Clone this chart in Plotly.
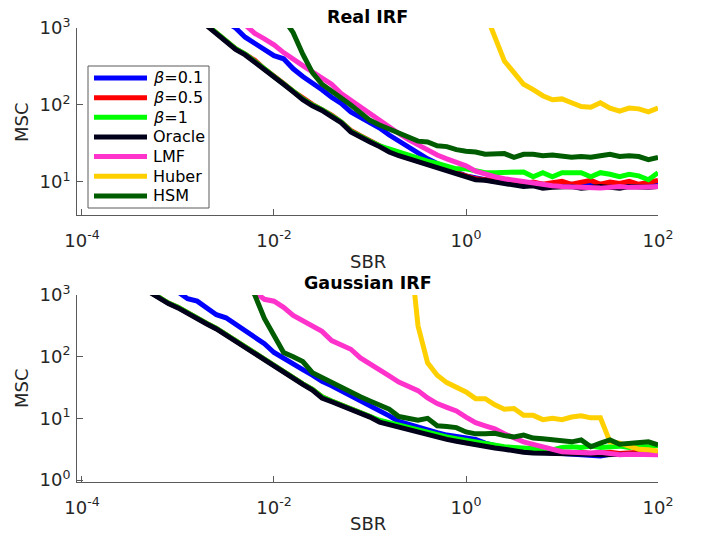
import numpy as np
import plotly.graph_objects as go

# SBR sampling grid: 61 points, 0.1 decade apart, 1e-4 .. 1e2
sbr = np.logspace(-4, 2, 61)

names = ["<i>β</i>=0.1", "<i>β</i>=0.5", "<i>β</i>=1", "Oracle", "LMF", "Huber", "HSM"]
colors = ["#0000FF", "#FF0000", "#00FF00", "#00001A", "#FF33CC", "#FFD000", "#005C00"]

# ---------- Real IRF (first grid index, MSC values) ----------
real_b01_start = 15
real_b01 = [1202, 1000, 759, 631, 513, 437, 398, 295, 234, 195, 158, 126, 105, 81.3, 69.2, 60.3,
            50.1, 40.7, 33.9, 28.8, 23.4, 20.0, 17.4, 15.1, 13.5, 12.0, 11.2, 10.7, 10.2, 10.0,
            9.55, 9.33, 9.12, 9.33, 8.91, 9.12, 9.33, 8.91, 9.12, 9.33, 8.91, 9.12, 9.33, 8.91, 9.12, 9.33]
real_b05_start = 13
real_b05 = [1096, 851, 692, 537, 457, 380, 295, 240, 191, 151, 123, 102, 87.1, 74.1, 60.3, 46.8,
            39.8, 33.9, 29.5, 25.7, 22.4, 20.4, 18.6, 17.0, 15.8, 14.1, 12.9, 11.7, 11.0, 10.7,
            10.2, 10.0, 9.77, 9.55, 10.0, 9.33, 9.77, 10.2, 9.33, 9.77, 10.5, 9.33, 10.0, 9.55,
            10.2, 9.33, 10.0, 10.5]
real_b1_start = 13
real_b1 = [1096, 851, 676, 537, 457, 372, 295, 234, 191, 151, 120, 100, 87.1, 72.4, 60.3, 45.7,
           38.9, 33.9, 29.5, 26.9, 24.0, 21.9, 20.0, 18.6, 17.4, 15.8, 14.8, 14.8, 13.8, 13.2,
           13.2, 13.2, 13.2, 13.5, 11.7, 13.2, 11.7, 13.2, 13.2, 13.2, 11.7, 13.2, 12.6, 11.7,
           12.6, 12.0, 10.7, 13.2]
real_oracle_start = 13
real_oracle = [1072, 832, 661, 525, 447, 363, 288, 229, 186, 148, 117, 97.7, 85.1, 70.8, 58.9,
               44.7, 38.0, 33.1, 28.8, 24.5, 21.9, 20.0, 18.2, 16.6, 15.5, 13.8, 12.6, 11.5,
               10.7, 10.5, 10.0, 9.77, 9.33, 8.71, 8.91, 8.32, 8.51, 8.51, 8.71, 8.32, 8.51,
               8.71, 8.51, 8.32, 8.71, 8.51, 8.51, 8.71]
real_lmf_start = 17
real_lmf = [1096, 851, 724, 603, 479, 389, 324, 269, 219, 186, 141, 115, 93.3, 77.6, 64.6, 52.5,
            42.7, 35.5, 30.2, 25.7, 22.4, 20.0, 18.2, 16.2, 13.8, 12.6, 11.7, 11.0, 10.5, 10.0,
            9.55, 9.12, 8.91, 8.71, 8.61, 8.71, 8.32, 8.32, 8.51, 8.71, 8.51, 8.71, 8.61, 8.71]
real_huber_start = 42
real_huber = [1585, 741, 372, 263, 186, 158, 132, 117, 120, 107, 95.5, 93.3, 107, 91.2, 83.2,
              91.2, 89.1, 81.3, 91.2]
real_hsm_start = 21
real_hsm = [1318, 871, 457, 263, 186, 148, 123, 100, 79.4, 63.1, 55.0, 49.0, 43.7, 38.0, 33.9,
            33.1, 29.5, 28.8, 26.3, 25.1, 24.5, 22.9, 23.4, 23.4, 20.9, 22.9, 22.9, 21.9, 22.4,
            21.4, 20.9, 21.4, 20.9, 21.9, 22.9, 21.4, 21.9, 21.4, 19.5, 20.9]

# ---------- Gaussian IRF ----------
gauss_b01_start = 10
gauss_b01 = [1122, 871, 794, 603, 479, 427, 339, 257, 204, 162, 117, 93.3, 77.6, 61.7, 50.1,
             39.8, 33.9, 28.2, 23.4, 20.0, 16.6, 13.8, 11.0, 8.91, 7.94, 7.08, 6.46, 5.89, 5.37,
             5.01, 4.79, 4.57, 3.98, 3.55, 3.31, 3.09, 2.95, 2.82, 2.82, 2.75, 2.69, 2.69, 2.63,
             2.57, 2.45, 2.63, 2.63, 2.57, 2.63, 2.63, 2.69]
gauss_b05_start = 7
gauss_b05 = [1148, 912, 741, 631, 513, 407, 347, 288, 229, 182, 138, 115, 89.1, 69.2, 55.0, 44.7,
             36.3, 29.5, 22.4, 19.1, 16.6, 14.5, 12.6, 10.7, 8.91, 8.13, 7.41, 6.76, 6.03, 5.50,
             5.01, 4.68, 4.37, 4.07, 3.89, 3.63, 3.39, 3.24, 3.02, 2.88, 2.82, 2.82, 2.75, 2.69,
             2.75, 2.82, 2.69, 2.75, 2.82, 2.69, 2.75, 2.82, 2.75, 2.82]
gauss_b1_start = 7
gauss_b1 = [1148, 912, 741, 631, 513, 407, 347, 288, 229, 182, 138, 115, 89.1, 69.2, 55.0, 44.7,
            36.3, 29.5, 22.4, 19.1, 16.6, 14.5, 12.6, 10.7, 9.33, 8.51, 7.76, 7.08, 6.46, 5.89,
            5.37, 5.01, 4.68, 4.37, 4.07, 3.80, 3.63, 3.47, 3.39, 3.31, 3.24, 3.16, 3.09, 3.39,
            3.47, 3.39, 3.55, 3.39, 3.47, 3.55, 3.39, 3.55, 3.47, 3.63]
gauss_oracle_start = 7
gauss_oracle = [1122, 891, 724, 617, 501, 398, 339, 282, 224, 178, 135, 112, 87.1, 67.6, 53.7,
                43.7, 35.5, 28.8, 21.4, 18.6, 16.2, 14.1, 12.3, 10.5, 8.71, 7.94, 7.24, 6.61,
                5.89, 5.37, 4.90, 4.57, 4.27, 3.98, 3.80, 3.55, 3.31, 3.16, 2.95, 2.82, 2.75,
                2.75, 2.69, 2.63, 2.63, 2.69, 2.63, 2.57, 2.63, 2.57, 2.63, 2.63, 2.69, 2.63]
gauss_lmf_start = 18
gauss_lmf = [1122, 851, 794, 631, 468, 389, 316, 257, 182, 158, 132, 95.5, 77.6, 61.7, 49.0,
             38.9, 32.4, 28.2, 21.4, 17.4, 15.1, 13.2, 10.5, 8.51, 7.59, 6.76, 5.62, 4.79, 4.17,
             3.80, 3.47, 3.16, 2.88, 2.82, 2.75, 2.75, 2.82, 2.63, 2.57, 2.63, 2.57, 2.51, 2.57]
gauss_huber_start = 34
gauss_huber = [10000, 316, 79.4, 50.1, 38.0, 31.6, 26.9, 20.9, 20.9, 16.6, 14.1, 14.5, 11.2,
               11.2, 9.55, 10.0, 9.55, 10.5, 11.0, 10.2, 10.2, 4.17, 3.98, 3.55, 3.16, 3.09, 2.95]
gauss_hsm_start = 17
gauss_hsm = [1995, 1000, 417, 229, 117, 100, 83.2, 55.0, 45.7, 38.9, 31.6, 26.9, 22.4, 19.1,
             16.2, 14.1, 10.7, 10.0, 9.33, 10.0, 7.59, 7.41, 7.08, 6.03, 5.62, 5.62, 5.75, 5.25,
             5.01, 5.37, 4.79, 4.68, 4.47, 4.27, 4.17, 4.47, 3.47, 3.98, 4.47, 3.80, 3.98, 4.07,
             4.17, 3.72]

real = [(real_b01_start, real_b01), (real_b05_start, real_b05), (real_b1_start, real_b1),
        (real_oracle_start, real_oracle), (real_lmf_start, real_lmf),
        (real_huber_start, real_huber), (real_hsm_start, real_hsm)]
gauss = [(gauss_b01_start, gauss_b01), (gauss_b05_start, gauss_b05), (gauss_b1_start, gauss_b1),
         (gauss_oracle_start, gauss_oracle), (gauss_lmf_start, gauss_lmf),
         (gauss_huber_start, gauss_huber), (gauss_hsm_start, gauss_hsm)]

x_tickvals = [1e-4, 1e-2, 1e0, 1e2]
x_ticktext = ["10<sup>-4</sup>", "10<sup>-2</sup>", "10<sup>0</sup>", "10<sup>2</sup>"]
y_tickvals = [1e0, 1e1, 1e2, 1e3]
y_ticktext = ["10<sup>0</sup>", "10<sup>1</sup>", "10<sup>2</sup>", "10<sup>3</sup>"]

# page has an 8px body margin: figure drawn from (8, 8)
OFF = 8
W, H = 702 - OFF, 537 - OFF
FONT = "DejaVu Sans"
TXT = "#262626"
AX = "#5a5a5a"
LW = 5


def px(x):
    return (x - OFF) / W


def py(y):
    return 1 - (y - OFF) / H


fig = go.Figure()
for (start, vals), name, col in zip(real, names, colors):
    fig.add_trace(go.Scatter(x=sbr[start:start + len(vals)], y=vals, mode="lines", name=name,
                             line=dict(color=col, width=LW), xaxis="x", yaxis="y",
                             showlegend=False))
for (start, vals), name, col in zip(gauss, names, colors):
    fig.add_trace(go.Scatter(x=sbr[start:start + len(vals)], y=vals, mode="lines", name=name,
                             line=dict(color=col, width=LW), xaxis="x2", yaxis="y2",
                             showlegend=False))

xdom = [px(77), px(658)]
common_x = dict(type="log", range=[-4.052, 2.0], tickvals=x_tickvals, ticktext=x_ticktext,
                showline=True, linecolor=AX, linewidth=1, ticks="inside", ticklen=6,
                tickcolor=AX, showgrid=False, zeroline=False, domain=xdom, automargin=False,
                tickfont=dict(family=FONT, size=18, color=TXT), ticklabelstandoff=9)
common_y = dict(type="log", tickvals=y_tickvals, ticktext=y_ticktext, automargin=False,
                showline=True, linecolor=AX, linewidth=1, ticks="inside", ticklen=6,
                tickcolor=AX, showgrid=False, zeroline=False,
                tickfont=dict(family=FONT, size=18, color=TXT), ticklabelstandoff=2)

fig.update_layout(
    width=W, height=H, margin=dict(l=0, r=0, t=0, b=0, autoexpand=False),
    paper_bgcolor="white", plot_bgcolor="white",
    xaxis=dict(common_x, anchor="y"),
    yaxis=dict(common_y, range=[0.571, 3.0], domain=[py(215), py(28)], anchor="x"),
    xaxis2=dict(common_x, anchor="y2"),
    yaxis2=dict(common_y, range=[-0.031, 3.0], domain=[py(482), py(295)], anchor="x2"),
    showlegend=False,
)

# ---- legend (drawn in paper coordinates) ----
fig.add_shape(type="rect", xref="paper", yref="paper", x0=px(88), x1=px(209), y0=py(208), y1=py(66),
              line=dict(color=AX, width=1), fillcolor="white", layer="above")
for i, (name, col) in enumerate(zip(names, colors)):
    yc = 78 + i * 19.65
    fig.add_shape(type="line", xref="paper", yref="paper", x0=px(94), x1=px(147), y0=py(yc), y1=py(yc),
                  line=dict(color=col, width=LW), layer="above")
    fig.add_annotation(text=name, x=px(151), y=py(yc), xref="paper", yref="paper",
                       xanchor="left", yanchor="middle", showarrow=False,
                       font=dict(family=FONT, size=16, color="black"))

xc = (px(77) + px(658)) / 2
ann = [
    dict(text="<b>Real IRF</b>", x=xc, y=py(17), size=17.5, color="black"),
    dict(text="<b>Gaussian IRF</b>", x=xc, y=py(283), size=17.5, color="black"),
    dict(text="SBR", x=xc, y=py(262), size=18, color=TXT),
    dict(text="SBR", x=xc, y=py(523), size=18, color=TXT),
]
for a in ann:
    fig.add_annotation(text=a["text"], x=a["x"], y=a["y"], xref="paper", yref="paper",
                       xanchor="center", yanchor="middle", showarrow=False,
                       font=dict(family=FONT, size=a["size"], color=a["color"]))
for yy in [122, 388]:
    fig.add_annotation(text="MSC", x=px(21), y=py(yy), xref="paper", yref="paper",
                       xanchor="center", yanchor="middle", showarrow=False, textangle=-90,
                       font=dict(family=FONT, size=18, color=TXT))

fig.write_html("out.html")
